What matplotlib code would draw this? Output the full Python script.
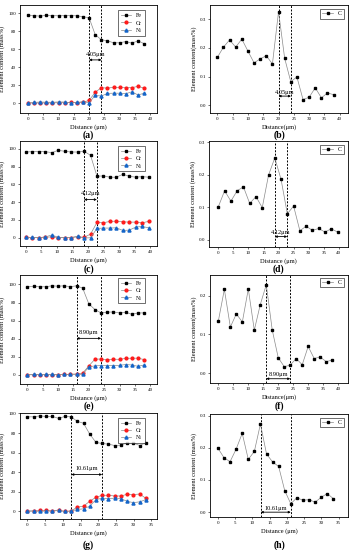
import matplotlib
matplotlib.use("Agg")
import matplotlib.pyplot as plt

plt.rcParams['font.family'] = ['Liberation Serif', 'DejaVu Serif']
plt.rcParams['mathtext.fontset'] = 'stix'

# ---------------- data ----------------
x_a = [0, 2, 4, 6, 8, 10, 12, 14, 16, 18, 20, 22, 24, 26, 28, 30, 32, 34, 36, 38]
fe_a = [97.4, 97.2, 96.6, 97.6, 97.2, 97.0, 97.2, 97.2, 97.0, 96.0, 94.8, 76.0, 70.4, 69.2, 67.0, 67.0, 68.4, 66.6, 69.2, 66.0]
cr_a = [0.2, 0.0, 0.3, 0.2, 0.3, 0.4, 0.5, 0.8, 0.6, 1.0, 3.0, 12.0, 17.2, 16.6, 17.6, 17.4, 17.2, 17.2, 18.6, 16.6]
ni_a = [0.0, 0.8, 1.2, 1.0, 0.9, 1.3, 1.2, 0.5, 0.7, 1.6, 0.4, 8.6, 7.8, 10.8, 11.0, 11.0, 10.4, 12.6, 9.0, 11.0]
c_b = [0.167, 0.203, 0.228, 0.203, 0.231, 0.189, 0.148, 0.162, 0.173, 0.144, 0.327, 0.164, 0.082, 0.099, 0.020, 0.028, 0.061, 0.026, 0.043, 0.037]

x_c = [0, 2.08, 4.16, 6.24, 8.32, 10.4, 12.48, 14.56, 16.64, 18.72, 20.8, 22.88, 24.96, 27.04, 29.12, 31.2, 33.28, 35.36, 37.44, 39.52]
fe_c = [96.6, 97.0, 97.0, 97.0, 95.9, 98.5, 97.4, 96.6, 96.6, 97.4, 92.9, 69.3, 69.7, 68.2, 68.2, 71.5, 69.3, 68.2, 68.9, 68.2]
cr_c = [0.3, 0.2, 0.0, 0.5, 1.0, 0.2, 0.0, 0.2, 1.0, 0.5, 4.1, 17.2, 16.9, 18.4, 18.7, 18.0, 17.6, 17.6, 16.9, 18.4]
ni_c = [0.6, 0.3, 0.0, 1.0, 3.0, 0.6, 0.2, 0.2, 1.8, -0.3, 0.0, 10.5, 10.9, 10.9, 11.2, 8.2, 8.6, 12.0, 12.7, 11.2]
c_d = [0.102, 0.151, 0.119, 0.151, 0.163, 0.112, 0.133, 0.099, 0.199, 0.252, 0.186, 0.080, 0.104, 0.028, 0.042, 0.029, 0.035, 0.024, 0.034, 0.024]

x_e = [0, 2, 4, 6, 8, 10, 12, 14, 16, 18, 20, 22, 24, 26, 28, 30, 32, 34, 36, 38]
fe_e = [97.4, 98.0, 97.4, 97.4, 98.5, 98.0, 98.5, 97.4, 98.5, 95.9, 78.5, 72.2, 68.5, 69.3, 69.6, 68.5, 69.3, 67.0, 68.5, 68.5]
cr_e = [0.2, 0.2, 0.3, 0.3, 0.3, 0.2, 0.5, 0.8, 1.0, 2.0, 10.0, 17.4, 17.6, 16.6, 17.4, 17.2, 18.3, 18.5, 18.5, 17.0]
ni_e = [0.3, 0.5, 0.5, 0.6, 0.6, 0.4, 0.6, 0.7, 0.8, 0.5, 9.0, 10.0, 10.4, 10.4, 10.4, 10.6, 11.5, 11.0, 9.5, 11.0]
c_f = [0.135, 0.216, 0.119, 0.153, 0.132, 0.217, 0.111, 0.177, 0.228, 0.111, 0.040, 0.017, 0.021, 0.038, 0.022, 0.069, 0.038, 0.042, 0.030, 0.034]

x_g = [0, 1.76, 3.52, 5.28, 7.04, 8.8, 10.56, 12.32, 14.08, 15.84, 17.6, 19.36, 21.12, 22.88, 24.64, 26.4, 28.16, 29.92, 31.68, 33.44]
fe_g = [96.6, 96.6, 97.6, 97.0, 97.0, 95.0, 97.0, 96.6, 92.0, 90.0, 79.0, 70.4, 69.4, 68.7, 67.3, 67.7, 70.0, 70.0, 67.3, 70.0]
cr_g = [0.2, 0.5, 1.0, 1.0, 0.5, 1.5, 0.0, 0.5, 4.4, 5.4, 10.4, 14.5, 16.5, 16.5, 15.8, 15.8, 17.5, 17.2, 17.8, 13.5]
ni_g = [0.5, 0.5, 0.0, 0.5, 0.3, 1.0, 0.0, 0.5, 2.0, 2.7, 5.4, 12.1, 13.5, 13.1, 13.5, 13.0, 10.4, 9.0, 9.8, 12.0]
c_h = [0.199, 0.169, 0.157, 0.196, 0.245, 0.164, 0.189, 0.274, 0.181, 0.156, 0.142, 0.067, 0.026, 0.045, 0.037, 0.039, 0.031, 0.046, 0.058, 0.042]

widths = ["4.05μm", "4.12μm", "8.90μm", "10.61μm"]
bounds = [(20, 24.05), (18.72, 22.84), (16, 24), (12.4, 21.1)]
panel_labels = ["(a)", "(b)", "(c)", "(d)", "(e)", "(f)", "(g)", "(h)"]

W, H = 352, 550
fig = plt.figure(figsize=(W / 100, H / 100), dpi=100)

def rect(l, r, t, b):
    return [l / W, 1 - b / H, (r - l) / W, (b - t) / H]

FS_T = 3.6
FS_L = 4.6
FS_LEG = 4.2
LINE_C = '#8a8a8a'

def style(ax):
    for s in ax.spines.values():
        s.set_linewidth(0.6)
    ax.tick_params(direction='out', length=1.5, width=0.4, labelsize=FS_T, pad=1.5)

def vlines(ax, b):
    for xv in b:
        ax.axvline(xv, color='black', ls=(0, (2, 1.5)), lw=0.7, zorder=1)

def span(ax, b, y_arrow, y_text, label):
    ax.annotate('', xy=(b[0], y_arrow), xytext=(b[1], y_arrow),
                arrowprops=dict(arrowstyle='<|-|>', color='black', lw=0.6,
                                mutation_scale=3, shrinkA=0, shrinkB=0))
    ax.text((b[0] + b[1]) / 2, y_text, label, ha='center', va='bottom', fontsize=FS_L)

def elem_panel(rc, x, fe, cr, ni, b, ylim, xlim, y_arrow, y_text, label, xl, yl, leg_anchor, plabel, plabel_y):
    ax = fig.add_axes(rect(*rc))
    ax.plot(x, fe, color=LINE_C, lw=0.5, marker='s', ms=2.0, mfc='black', mec='black', label='Fe', zorder=3)
    ax.plot(x, cr, color=LINE_C, lw=0.5, marker='o', ms=2.0, mfc='#ff1a1a', mec='#ff1a1a', label='Cr', zorder=3)
    ax.plot(x, ni, color=LINE_C, lw=0.5, marker='^', ms=2.2, mfc='#1565c8', mec='#1565c8', label='Ni', zorder=3)
    vlines(ax, b)
    span(ax, b, y_arrow, y_text, label)
    ax.set_ylim(*ylim)
    ax.set_xlim(*xlim)
    ax.set_yticks([0, 20, 40, 60, 80, 100])
    ax.set_xticks(list(range(0, int(xlim[1]) + 1, 5)))
    ax.set_xlabel(xl, fontsize=FS_L, labelpad=2)
    ax.set_ylabel(yl, fontsize=FS_L, labelpad=2)
    style(ax)
    leg = ax.legend(loc='upper right', bbox_to_anchor=leg_anchor, fontsize=FS_LEG, frameon=True,
                    fancybox=False, edgecolor='black', handlelength=1.8, borderpad=0.5,
                    labelspacing=0.35, handletextpad=0.8, borderaxespad=0)
    leg.get_frame().set_linewidth(0.5)
    fig.text((rc[0] + rc[1]) / 2 / W, 1 - plabel_y / H, plabel, ha='center', va='center',
             fontsize=7, fontweight='bold')
    return ax

def c_panel(rc, x, c, b, ylim, xlim, yticks, y_arrow, y_text, label, xl, yl, leg_anchor, plabel, plabel_y):
    ax = fig.add_axes(rect(*rc))
    ax.plot(x, c, color=LINE_C, lw=0.5, marker='s', ms=2.0, mfc='black', mec='black', label='C', zorder=3)
    vlines(ax, b)
    span(ax, b, y_arrow, y_text, label)
    ax.set_ylim(*ylim)
    ax.set_xlim(*xlim)
    ax.set_yticks(yticks)
    ax.set_yticklabels([f"{v:.1f}" for v in yticks])
    ax.set_xticks(list(range(0, int(xlim[1]) + 1, 5)))
    ax.set_xlabel(xl, fontsize=FS_L, labelpad=2)
    ax.set_ylabel(yl, fontsize=FS_L, labelpad=2)
    style(ax)
    leg = ax.legend(loc='upper right', bbox_to_anchor=leg_anchor, fontsize=FS_LEG, frameon=True,
                    fancybox=False, edgecolor='black', handlelength=1.8, borderpad=0.4,
                    handletextpad=0.8, borderaxespad=0)
    leg.get_frame().set_linewidth(0.5)
    fig.text((rc[0] + rc[1]) / 2 / W, 1 - plabel_y / H, plabel, ha='center', va='center',
             fontsize=7, fontweight='bold')
    return ax

XL = "Distance (μm)"
XL2 = "Distance(μm)"
YL = "Element content (mass%)"
YL2 = "Element content(mass%)"

# row 1
elem_panel((20, 157, 5, 113), x_a, fe_a, cr_a, ni_a, bounds[0], (-11, 109), (-2.6, 42.2),
           48, 51, widths[0], XL, YL, (0.91, 0.95), panel_labels[0], 135)
c_panel((210, 348, 5, 113), x_a, c_b, bounds[0], (-0.027, 0.35), (-2.4, 42.7), [0.0, 0.1, 0.2, 0.3],
        0.032, 0.036, widths[0], XL2, YL2, (0.97, 0.965), panel_labels[1], 135)

# row 2
elem_panel((20, 157, 141, 246), x_c, fe_c, cr_c, ni_c, bounds[1], (-9.3, 109), (-1.9, 42.2),
           43, 47, widths[1], XL, YL, (0.91, 0.95), panel_labels[2], 269)
c_panel((209, 348, 141, 247), x_c, c_d, bounds[1], (-0.022, 0.304), (-3.1, 43.0), [0.0, 0.1, 0.2, 0.3],
        0.010, 0.016, widths[1], XL, YL, (0.97, 0.965), panel_labels[3], 269)

# row 3
elem_panel((20, 157, 275, 384), x_e, fe_e, cr_e, ni_e, bounds[2], (-10, 110.4), (-2.4, 42.2),
           40.4, 44, widths[2], XL, YL, (0.91, 0.97), panel_labels[4], 406)
c_panel((210, 348, 275, 383), x_e, c_f, bounds[2], (-0.025, 0.253), (-2.8, 43.3), [0.0, 0.1, 0.2],
        -0.014, -0.009, widths[2], XL2, YL2, (0.97, 0.975), panel_labels[5], 406)

# row 4
elem_panel((20, 157, 413, 519), x_g, fe_g, cr_g, ni_g, bounds[3], (-7.7, 100.5), (-2.1, 36.6),
           37.7, 41, widths[3], XL, YL, (0.91, 0.955), panel_labels[6], 545)
c_panel((210, 348, 414, 517), x_g, c_h, bounds[3], (-0.015, 0.305), (-2.3, 37.7), [0.0, 0.1, 0.2, 0.3],
        0.0, 0.004, widths[3], XL, YL, (0.97, 0.965), panel_labels[7], 545)

fig.savefig("out.png", dpi=100)
